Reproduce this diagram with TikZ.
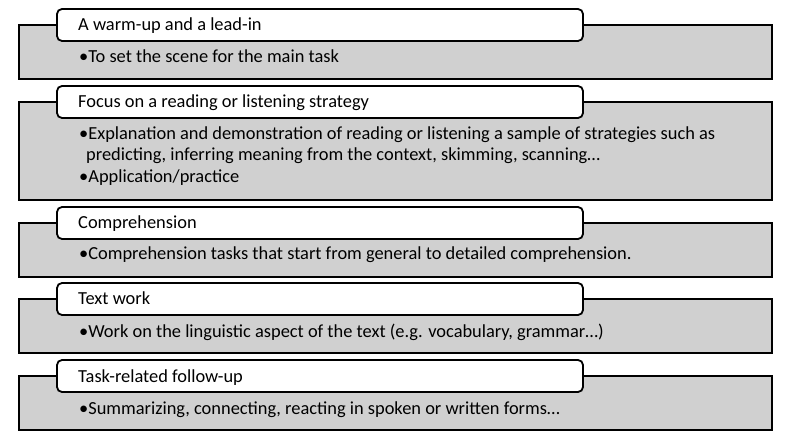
\documentclass[tikz,border=0pt]{standalone}
\usepackage{fontspec}
\setmainfont{Carlito}
\begin{document}
\begin{tikzpicture}[x=1pt,y=-1pt,
  graybox/.style={draw=black,line width=1.8pt,fill=boxgray},
  headbox/.style={draw=black,line width=1.8pt,fill=white,rounded corners=5pt},
  headtext/.style={anchor=base west,inner sep=0pt,font=\fontsize{18.4}{21}\selectfont},
  bodytext/.style={anchor=base west,inner sep=0pt,font=\fontsize{18.4}{21}\selectfont}]
\definecolor{boxgray}{HTML}{D0D0D0}
\useasboundingbox (0,0) rectangle (800,446);
% box 1
\path[graybox] (19,25) rectangle (772,79) coordinate (g1);
\path[headbox] (57,9) rectangle (583,41) coordinate (h1);
\node[headtext] (t1) at (78,31) {A warm-up and a lead-in};
\node[bodytext] (b1) at (79,63) {•To set the scene for the main task};
% box 2
\path[graybox] (19,102) rectangle (772,200) coordinate (g2);
\path[headbox] (57,86) rectangle (583,118) coordinate (h2);
\node[headtext] (t2) at (78,108) {Focus on a reading or listening strategy};
\node[bodytext] (b2a) at (79,140) {•Explanation and demonstration of reading or listening a sample of strategies such as};
\node[bodytext] (b2b) at (86,161) {predicting, inferring meaning from the context, skimming, scanning…};
\node[bodytext] (b2c) at (79,183) {•Application/practice};
% box 3
\path[graybox] (19,223) rectangle (772,277) coordinate (g3);
\path[headbox] (57,207) rectangle (583,239) coordinate (h3);
\node[headtext] (t3) at (78,229) {Comprehension};
\node[bodytext] (b3) at (79,260) {•Comprehension tasks that start from general to detailed comprehension.};
% box 4
\path[graybox] (19,299) rectangle (772,353) coordinate (g4);
\path[headbox] (57,283) rectangle (583,315) coordinate (h4);
\node[headtext] (t4) at (78,305) {Text work};
\node[bodytext] (b4) at (79,337) {•Work on the linguistic aspect of the text (e.g. vocabulary, grammar…)};
% box 5
\path[graybox] (19,376) rectangle (772,430) coordinate (g5);
\path[headbox] (57,360) rectangle (583,392) coordinate (h5);
\node[headtext] (t5) at (78,382) {Task-related follow-up};
\node[bodytext] (b5) at (79,414) {•Summarizing, connecting, reacting in spoken or written forms…};
\end{tikzpicture}
\end{document}
